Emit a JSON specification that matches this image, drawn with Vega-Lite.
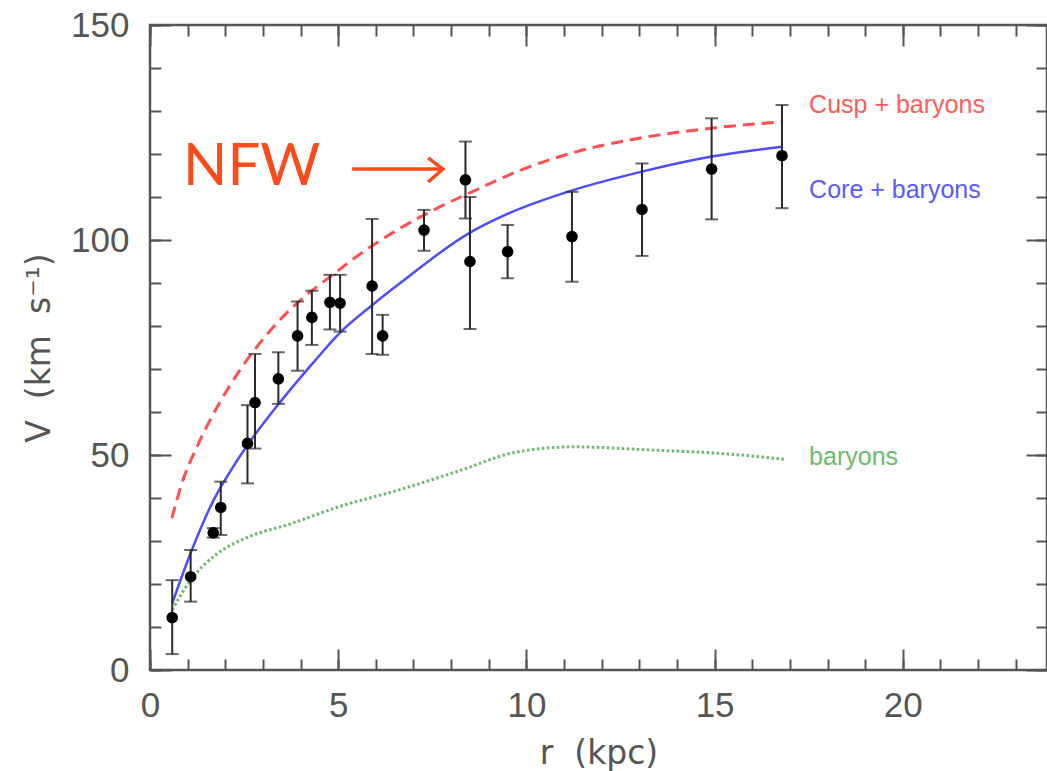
{
  "$schema": "https://vega.github.io/schema/vega-lite/v6.json",
  "width": 897,
  "height": 645,
  "autosize": {"type": "none"},
  "padding": {"left": 150, "top": 25, "right": 0, "bottom": 101},
  "background": "white",
  "config": {"view": {"stroke": "#555", "strokeWidth": 2.5}, "axis": {"grid": false}},
  "resolve": {"axis": {"x": "independent", "y": "independent"}},
  "datasets": {
    "obs": [
      {"r": 0.59, "v": 12.2, "lo": 3.7, "hi": 20.9},
      {"r": 1.08, "v": 21.7, "lo": 15.9, "hi": 27.9},
      {"r": 1.68, "v": 31.9, "lo": 30.8, "hi": 33.0},
      {"r": 1.88, "v": 37.8, "lo": 31.4, "hi": 43.8},
      {"r": 2.59, "v": 52.7, "lo": 43.4, "hi": 61.6},
      {"r": 2.79, "v": 62.2, "lo": 51.5, "hi": 73.5},
      {"r": 3.41, "v": 67.7, "lo": 61.9, "hi": 73.9},
      {"r": 3.92, "v": 77.7, "lo": 69.6, "hi": 85.7},
      {"r": 4.30, "v": 82.0, "lo": 75.6, "hi": 88.2},
      {"r": 4.78, "v": 85.5, "lo": 79.2, "hi": 91.9},
      {"r": 5.05, "v": 85.3, "lo": 78.7, "hi": 91.9},
      {"r": 5.90, "v": 89.3, "lo": 73.5, "hi": 104.9},
      {"r": 6.18, "v": 77.7, "lo": 73.3, "hi": 82.6},
      {"r": 7.28, "v": 102.3, "lo": 97.5, "hi": 107.0},
      {"r": 8.38, "v": 114.0, "lo": 105.0, "hi": 122.9},
      {"r": 8.50, "v": 95.0, "lo": 79.3, "hi": 110.0},
      {"r": 9.50, "v": 97.3, "lo": 91.1, "hi": 103.5},
      {"r": 11.21, "v": 100.8, "lo": 90.3, "hi": 111.2},
      {"r": 13.07, "v": 107.1, "lo": 96.3, "hi": 117.8},
      {"r": 14.92, "v": 116.5, "lo": 104.8, "hi": 128.3},
      {"r": 16.79, "v": 119.6, "lo": 107.4, "hi": 131.4}
    ],
    "cusp": [
      {"r": 0.58, "v": 35.3}, {"r": 0.82, "v": 42.7}, {"r": 1.30, "v": 52.9}, {"r": 1.84, "v": 62.0},
      {"r": 2.72, "v": 73.8}, {"r": 3.30, "v": 80.0}, {"r": 3.93, "v": 85.5}, {"r": 4.82, "v": 91.7},
      {"r": 5.82, "v": 98.2}, {"r": 6.62, "v": 102.6}, {"r": 7.72, "v": 107.8}, {"r": 8.48, "v": 110.9},
      {"r": 9.92, "v": 116.5}, {"r": 11.24, "v": 120.3}, {"r": 13.22, "v": 124.0}, {"r": 14.92, "v": 126.0},
      {"r": 16.79, "v": 127.5}
    ],
    "core": [
      {"r": 0.59, "v": 15.5}, {"r": 1.08, "v": 27.2}, {"r": 1.65, "v": 38.8}, {"r": 2.21, "v": 47.3},
      {"r": 2.63, "v": 52.8}, {"r": 3.43, "v": 62.0}, {"r": 4.32, "v": 71.3}, {"r": 5.03, "v": 78.3},
      {"r": 5.91, "v": 84.9}, {"r": 6.62, "v": 89.8}, {"r": 8.48, "v": 101.6}, {"r": 9.48, "v": 106.0},
      {"r": 11.24, "v": 111.6}, {"r": 13.07, "v": 115.9}, {"r": 14.92, "v": 119.4}, {"r": 16.79, "v": 121.7}
    ],
    "baryons": [
      {"r": 0.59, "v": 14.0}, {"r": 1.08, "v": 20.9}, {"r": 1.75, "v": 26.8}, {"r": 2.63, "v": 31.0},
      {"r": 3.70, "v": 33.9}, {"r": 5.03, "v": 38.0}, {"r": 6.62, "v": 41.9}, {"r": 8.27, "v": 46.5},
      {"r": 9.59, "v": 50.4}, {"r": 10.4, "v": 51.5}, {"r": 11.24, "v": 51.9}, {"r": 13.22, "v": 51.2},
      {"r": 15.41, "v": 50.2}, {"r": 16.84, "v": 49.0}
    ],
    "labels": [
      {"r": 17.51, "v": 129.5, "label": "Cusp + baryons", "series": "cusp"},
      {"r": 17.51, "v": 109.8, "label": "Core + baryons", "series": "core"},
      {"r": 17.51, "v": 47.7, "label": "baryons", "series": "baryons"}
    ],
    "nfw": [{"r": 0.88, "v": 112.8, "label": "NFW"}],
    "arrow": [
      {"r": 5.37, "v": 116.5, "part": "shaft", "o": 1},
      {"r": 7.78, "v": 116.5, "part": "shaft", "o": 2},
      {"r": 7.39, "v": 119.1, "part": "head", "o": 1},
      {"r": 7.78, "v": 116.5, "part": "head", "o": 2},
      {"r": 7.39, "v": 113.5, "part": "head", "o": 3}
    ]
  },
  "layer": [
    {
      "data": {"name": "cusp"},
      "mark": {"type": "line", "color": "#ff4f4f", "strokeWidth": 3, "strokeDash": [12, 7], "interpolate": "monotone"},
      "encoding": {
        "x": {"field": "r", "type": "quantitative", "scale": {"domain": [0, 23.83], "nice": false, "zero": false},
              "axis": {"orient": "top", "values": [0,1,2,3,4,5,6,7,8,9,10,11,12,13,14,15,16,17,18,19,20,21,22,23], "labels": false, "domain": false, "ticks": true, "tickSize": 11, "tickWidth": 2, "tickColor": "#555", "offset": -11, "title": null}},
        "y": {"field": "v", "type": "quantitative", "scale": {"domain": [0, 150], "nice": false, "zero": false},
              "axis": {"orient": "right", "values": [0,10,20,30,40,50,60,70,80,90,100,110,120,130,140,150], "labels": false, "domain": false, "ticks": true, "tickSize": 11, "tickWidth": 2, "tickColor": "#555", "offset": -11, "title": null}}
      }
    },
    {
      "data": {"name": "core"},
      "mark": {"type": "line", "color": "#4d4dff", "strokeWidth": 2.5, "interpolate": "monotone"},
      "encoding": {
        "x": {"field": "r", "type": "quantitative", "scale": {"domain": [0, 23.83], "nice": false, "zero": false}, "axis": null},
        "y": {"field": "v", "type": "quantitative", "scale": {"domain": [0, 150], "nice": false, "zero": false}, "axis": null}
      }
    },
    {
      "data": {"name": "baryons"},
      "mark": {"type": "line", "color": "#6cb86c", "strokeWidth": 3, "strokeDash": [2.5, 2.5], "interpolate": "monotone"},
      "encoding": {
        "x": {"field": "r", "type": "quantitative", "scale": {"domain": [0, 23.83], "nice": false, "zero": false}, "axis": null},
        "y": {"field": "v", "type": "quantitative", "scale": {"domain": [0, 150], "nice": false, "zero": false}, "axis": null}
      }
    },
    {
      "data": {"name": "obs"},
      "mark": {"type": "rule", "color": "#2a2a2a", "strokeWidth": 2},
      "encoding": {
        "x": {"field": "r", "type": "quantitative", "scale": {"domain": [0, 23.83], "nice": false, "zero": false},
              "axis": {"orient": "bottom", "values": [0, 5, 10, 15, 20], "ticks": false, "domain": false, "labelFont": "Liberation Sans", "labelFontSize": 35, "labelColor": "#555", "labelPadding": 18, "labelFlush": false, "title": "r\u00a0\u00a0(kpc)", "titleFont": "DejaVu Sans", "titleFontSize": 33, "titleFontWeight": "normal", "titleColor": "#555", "titlePadding": 14}},
        "y": {"field": "lo", "type": "quantitative", "scale": {"domain": [0, 150], "nice": false, "zero": false},
              "axis": {"orient": "left", "values": [0, 50, 100, 150], "ticks": false, "domain": false, "labelFont": "Liberation Sans", "labelFontSize": 35, "labelColor": "#555", "labelPadding": 21, "labelFlush": false, "title": "V\u00a0\u00a0(km\u00a0\u00a0s⁻¹)", "titleFont": "DejaVu Sans", "titleFontSize": 33, "titleFontWeight": "normal", "titleColor": "#555", "titlePadding": 14}},
        "y2": {"field": "hi"}
      }
    },
    {
      "data": {"name": "obs"},
      "mark": {"type": "tick", "orient": "horizontal", "color": "#2a2a2a", "size": 13, "thickness": 2},
      "encoding": {
        "x": {"field": "r", "type": "quantitative", "scale": {"domain": [0, 23.83], "nice": false, "zero": false},
              "axis": {"orient": "bottom", "values": [0, 5, 10, 15, 20], "labels": false, "domain": false, "ticks": true, "tickSize": 21, "tickWidth": 2, "tickColor": "#555", "offset": -21, "title": null}},
        "y": {"field": "lo", "type": "quantitative", "scale": {"domain": [0, 150], "nice": false, "zero": false},
              "axis": {"orient": "left", "values": [0, 50, 100, 150], "labels": false, "domain": false, "ticks": true, "tickSize": 21, "tickWidth": 2, "tickColor": "#555", "offset": -21, "title": null}}
      }
    },
    {
      "data": {"name": "obs"},
      "mark": {"type": "tick", "orient": "horizontal", "color": "#2a2a2a", "size": 13, "thickness": 2},
      "encoding": {
        "x": {"field": "r", "type": "quantitative", "scale": {"domain": [0, 23.83], "nice": false, "zero": false},
              "axis": {"orient": "bottom", "values": [0,1,2,3,4,5,6,7,8,9,10,11,12,13,14,15,16,17,18,19,20,21,22,23], "labels": false, "domain": false, "ticks": true, "tickSize": 11, "tickWidth": 2, "tickColor": "#555", "offset": -11, "title": null}},
        "y": {"field": "hi", "type": "quantitative", "scale": {"domain": [0, 150], "nice": false, "zero": false},
              "axis": {"orient": "left", "values": [0,10,20,30,40,50,60,70,80,90,100,110,120,130,140,150], "labels": false, "domain": false, "ticks": true, "tickSize": 11, "tickWidth": 2, "tickColor": "#555", "offset": -11, "title": null}}
      }
    },
    {
      "data": {"name": "obs"},
      "mark": {"type": "point", "filled": true, "color": "black", "opacity": 1, "size": 135},
      "encoding": {
        "x": {"field": "r", "type": "quantitative", "scale": {"domain": [0, 23.83], "nice": false, "zero": false},
              "axis": {"orient": "top", "values": [0, 5, 10, 15, 20], "labels": false, "domain": false, "ticks": true, "tickSize": 21, "tickWidth": 2, "tickColor": "#555", "offset": -21, "title": null}},
        "y": {"field": "v", "type": "quantitative", "scale": {"domain": [0, 150], "nice": false, "zero": false},
              "axis": {"orient": "right", "values": [0, 50, 100, 150], "labels": false, "domain": false, "ticks": true, "tickSize": 21, "tickWidth": 2, "tickColor": "#555", "offset": -21, "title": null}}
      }
    },
    {
      "data": {"name": "labels"},
      "mark": {"type": "text", "align": "left", "baseline": "alphabetic", "font": "Liberation Sans", "fontSize": 25},
      "encoding": {
        "x": {"field": "r", "type": "quantitative", "scale": {"domain": [0, 23.83], "nice": false, "zero": false}, "axis": null},
        "y": {"field": "v", "type": "quantitative", "scale": {"domain": [0, 150], "nice": false, "zero": false}, "axis": null},
        "text": {"field": "label"},
        "color": {"field": "series", "type": "nominal", "scale": {"domain": ["cusp", "core", "baryons"], "range": ["#ff5c5c", "#5a5aff", "#6cbb6c"]}, "legend": null}
      }
    },
    {
      "data": {"name": "nfw"},
      "mark": {"type": "text", "align": "left", "baseline": "alphabetic", "font": "Lato", "fontSize": 58, "color": "#fc4a1a"},
      "encoding": {
        "x": {"field": "r", "type": "quantitative", "scale": {"domain": [0, 23.83], "nice": false, "zero": false}, "axis": null},
        "y": {"field": "v", "type": "quantitative", "scale": {"domain": [0, 150], "nice": false, "zero": false}, "axis": null},
        "text": {"field": "label"}
      }
    },
    {
      "data": {"name": "arrow"},
      "mark": {"type": "line", "color": "#fc4a1a", "strokeWidth": 3.5},
      "encoding": {
        "x": {"field": "r", "type": "quantitative", "scale": {"domain": [0, 23.83], "nice": false, "zero": false}, "axis": null},
        "y": {"field": "v", "type": "quantitative", "scale": {"domain": [0, 150], "nice": false, "zero": false}, "axis": null},
        "detail": {"field": "part"},
        "order": {"field": "o", "type": "quantitative"}
      }
    }
  ]
}
